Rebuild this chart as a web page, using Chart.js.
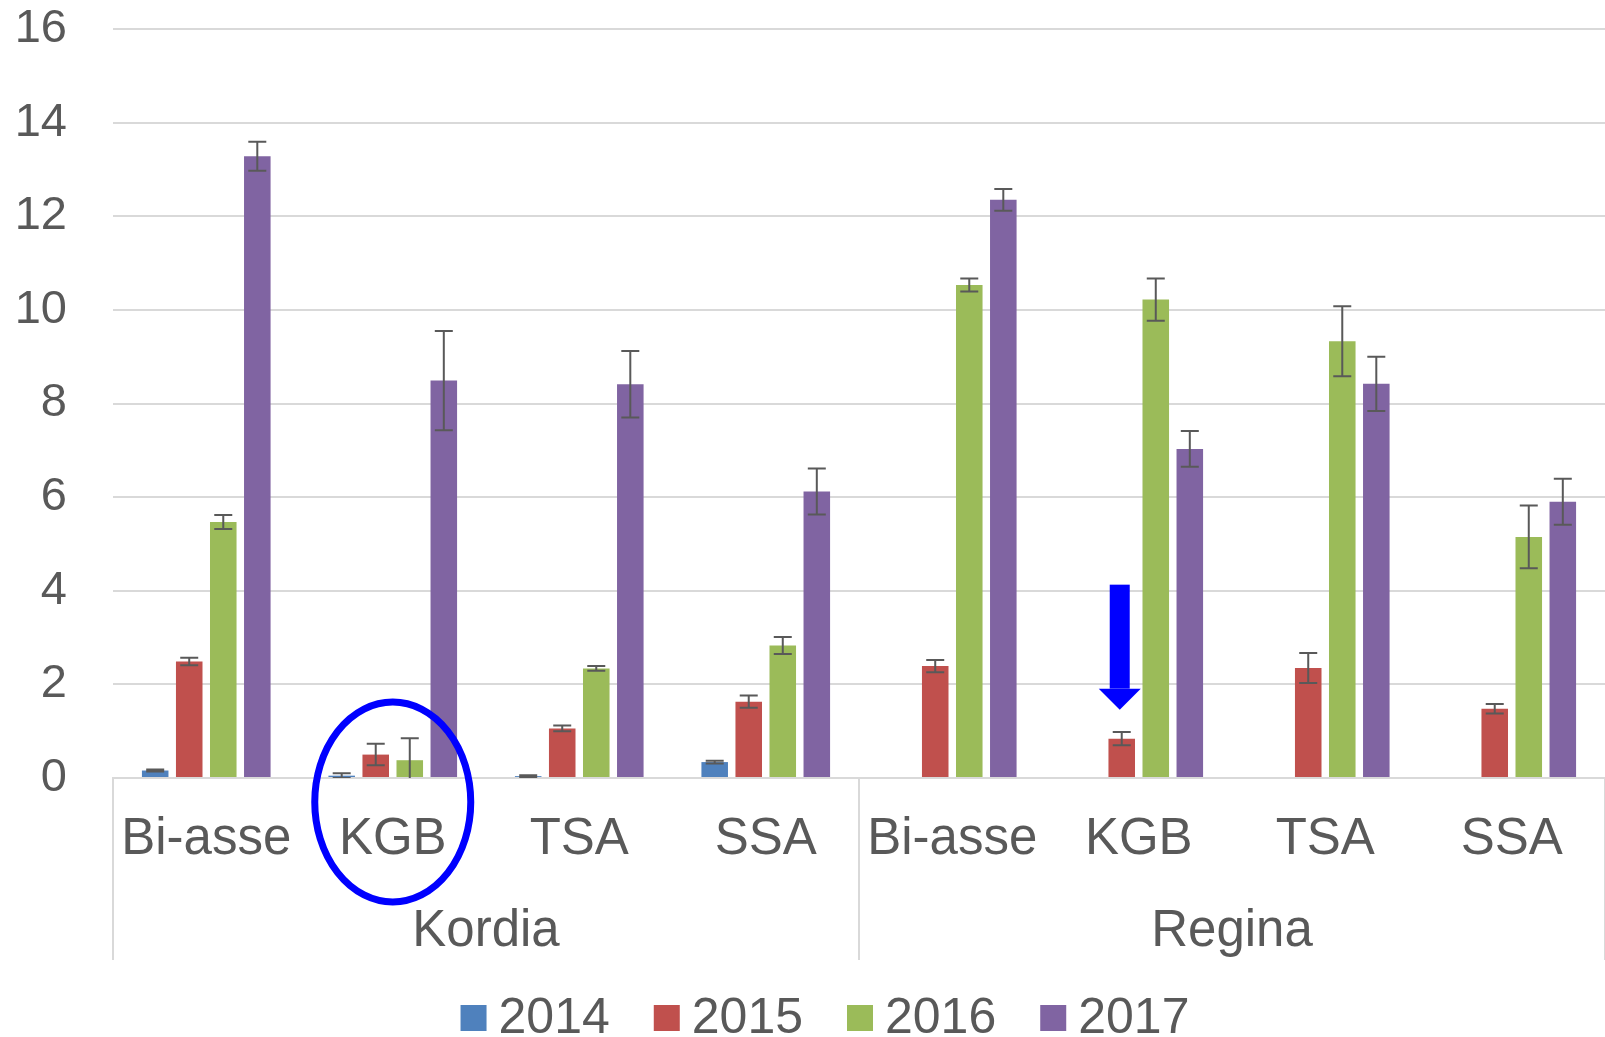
<!DOCTYPE html>
<html>
<head>
<meta charset="utf-8">
<script src="https://cdn.jsdelivr.net/npm/chart.js@4.4.1/dist/chart.umd.min.js"></script>
<style>
    html, body { margin: 0; padding: 0; background: #ffffff; }
    #wrap { width: 1605px; height: 1037px; }
</style>
</head>
<body>
<div id="wrap"><canvas id="barChart"></canvas></div>
<script>
// ----------------------------------------------------------
// DATA
// ----------------------------------------------------------
const methods = ["Bi-asse", "KGB", "TSA", "SSA", "Bi-asse", "KGB", "TSA", "SSA"];
const cultivars = ["Kordia", "Regina"];
const years = ["2014", "2015", "2016", "2017"];

const values2014 = [0.16, 0.05, 0.04, 0.34, null, null, null, null];
const values2015 = [2.49, 0.50, 1.06, 1.63, 2.39, 0.84, 2.35, 1.48];
const values2016 = [5.47, 0.38, 2.34, 2.83, 10.53, 10.22, 9.33, 5.15];
const values2017 = [13.28, 8.49, 8.41, 6.12, 12.35, 7.03, 8.42, 5.90];

const errors2014 = [0.02, 0.05, 0.02, 0.03, null, null, null, null];
const errors2015 = [0.08, 0.23, 0.06, 0.13, 0.13, 0.14, 0.32, 0.10];
const errors2016 = [0.15, 0.47, 0.05, 0.18, 0.14, 0.45, 0.75, 0.67];
const errors2017 = [0.31, 1.06, 0.71, 0.49, 0.23, 0.38, 0.58, 0.49];

const colors = ["#4F81BD", "#C0504D", "#9BBB59", "#8064A2"];

const FONT = "'Liberation Sans', Arial, sans-serif";
const TEXT = "#595959";
const GRID = "#d9d9d9";

// ----------------------------------------------------------
// PLUGIN: ERROR BARS
// ----------------------------------------------------------
const errorBars = {
    id: "errorBars",
    afterDatasetsDraw(chart) {
        const ctx = chart.ctx;
        const y = chart.scales.y;
        const area = chart.chartArea;
        ctx.save();
        ctx.beginPath();
        ctx.rect(area.left, area.top, area.right - area.left, area.bottom - area.top);
        ctx.clip();
        ctx.strokeStyle = "#595959";
        ctx.lineWidth = 2;
        chart.data.datasets.forEach((ds, i) => {
            const meta = chart.getDatasetMeta(i);
            meta.data.forEach((bar, j) => {
                const v = ds.data[j];
                const e = ds.errors[j];
                if (v == null || e == null) return;
                const top = y.getPixelForValue(v + e);
                const bottom = y.getPixelForValue(v - e);
                ctx.beginPath();
                ctx.moveTo(bar.x, top);
                ctx.lineTo(bar.x, bottom);
                ctx.moveTo(bar.x - 9, top);
                ctx.lineTo(bar.x + 9, top);
                ctx.moveTo(bar.x - 9, bottom);
                ctx.lineTo(bar.x + 9, bottom);
                ctx.stroke();
            });
        });
        ctx.restore();
    }
};

// ----------------------------------------------------------
// PLUGIN: GROUP LABELS (Kordia / Regina) + DIVIDERS
// ----------------------------------------------------------
const groupAxis = {
    id: "groupAxis",
    afterDraw(chart) {
        const ctx = chart.ctx;
        const x = chart.scales.x;
        const base = chart.chartArea.bottom;
        const step = x.getPixelForValue(1) - x.getPixelForValue(0);
        const perGroup = methods.length / cultivars.length;
        ctx.save();
        ctx.strokeStyle = GRID;
        ctx.lineWidth = 2;
        for (let g = 0; g <= cultivars.length; g++) {
            const px = x.getPixelForValue(g * perGroup) - step / 2;
            ctx.beginPath();
            ctx.moveTo(px, base);
            ctx.lineTo(px, base + 182);
            ctx.stroke();
        }
        ctx.fillStyle = TEXT;
        ctx.font = "51px " + FONT;
        ctx.textAlign = "center";
        ctx.textBaseline = "middle";
        cultivars.forEach((name, g) => {
            const first = x.getPixelForValue(g * perGroup);
            const last = x.getPixelForValue((g + 1) * perGroup - 1);
            ctx.fillText(name, (first + last) / 2, base + 154);
        });
        ctx.restore();
    }
};

// ----------------------------------------------------------
// PLUGIN: LEGEND (square swatch, tight gap to text)
// ----------------------------------------------------------
const bottomLegend = {
    id: "bottomLegend",
    afterDraw(chart) {
        const ctx = chart.ctx;
        const ds = chart.data.datasets;
        const box = 26, gap = 12, spacing = 44, cy = 1018;
        ctx.save();
        ctx.font = "50px " + FONT;
        ctx.textBaseline = "middle";
        ctx.textAlign = "left";
        const widths = ds.map(d => box + gap + ctx.measureText(d.label).width);
        const total = widths.reduce((a, b) => a + b, 0) + spacing * (ds.length - 1);
        let px = 825 - total / 2;
        ds.forEach((d, i) => {
            ctx.fillStyle = d.backgroundColor;
            ctx.fillRect(px, cy - box / 2, box, box);
            ctx.fillStyle = TEXT;
            ctx.fillText(d.label, px + box + gap, cy + 1);
            px += widths[i] + spacing;
        });
        ctx.restore();
    }
};

// ----------------------------------------------------------
// PLUGIN: BLUE MARKERS (ellipse + arrow)
// ----------------------------------------------------------
const markers = {
    id: "markers",
    afterDraw(chart) {
        const ctx = chart.ctx;
        const x = chart.scales.x;
        const y = chart.scales.y;
        const base = chart.chartArea.bottom;
        ctx.save();
        ctx.strokeStyle = "#0000FF";
        ctx.fillStyle = "#0000FF";

        // ellipse round Kordia KGB
        ctx.lineWidth = 7;
        ctx.beginPath();
        ctx.ellipse(x.getPixelForValue(1), base + 24, 78, 100, 0, 0, Math.PI * 2);
        ctx.stroke();

        // arrow down onto Regina KGB 2015
        const bar = chart.getDatasetMeta(1).data[5];
        const ax = bar.x - 2;
        const tip = y.getPixelForValue(1.46);
        const tail = y.getPixelForValue(4.13);
        ctx.fillRect(ax - 10, tail, 20, tip - 21 - tail);
        ctx.beginPath();
        ctx.moveTo(ax - 21, tip - 21);
        ctx.lineTo(ax + 21, tip - 21);
        ctx.lineTo(ax, tip);
        ctx.closePath();
        ctx.fill();
        ctx.restore();
    }
};

// ----------------------------------------------------------
// CHART
// ----------------------------------------------------------
const seriesValues = [values2014, values2015, values2016, values2017];
const seriesErrors = [errors2014, errors2015, errors2016, errors2017];

const ctx = document.getElementById("barChart").getContext("2d");
new Chart(ctx, {
    type: "bar",
    data: {
        labels: methods,
        datasets: years.map((yr, i) => ({
            label: yr,
            data: seriesValues[i],
            errors: seriesErrors[i],
            backgroundColor: colors[i],
            barPercentage: 0.78,
            categoryPercentage: 0.73
        }))
    },
    options: {
        responsive: true,
        maintainAspectRatio: false,
        animation: false,
        layout: {
            padding: { left: 15, right: 0, top: 0, bottom: 77 }
        },
        plugins: {
            tooltip: { enabled: false },
            legend: { display: false }
        },
        scales: {
            x: {
                grid: { display: false, drawTicks: false },
                border: { display: true, color: GRID, width: 2 },
                ticks: {
                    color: TEXT,
                    padding: 31,
                    maxRotation: 0,
                    autoSkip: false,
                    font: { family: FONT, size: 51 }
                },
                afterFit(scale) {
                    scale.height = 182;
                }
            },
            y: {
                min: 0,
                max: 16,
                grid: { color: GRID, lineWidth: 2, drawTicks: false },
                border: { display: false },
                ticks: {
                    stepSize: 2,
                    color: TEXT,
                    padding: 46,
                    font: { family: FONT, size: 47 }
                },
                afterFit(scale) {
                    scale.width = 98;
                    scale.paddingTop = 29;
                    scale.paddingBottom = 0;
                }
            }
        }
    },
    plugins: [errorBars, groupAxis, bottomLegend, markers]
});
</script>
</body>
</html>
